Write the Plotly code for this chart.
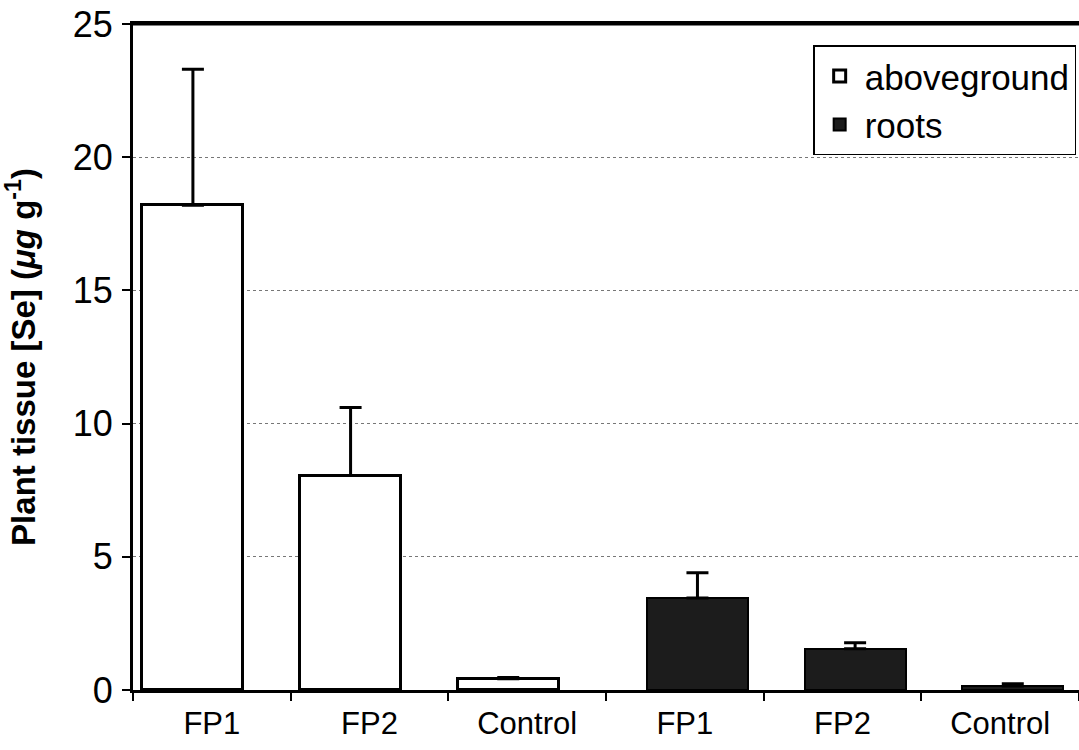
import plotly.graph_objects as go

# ---- data ----
categories = ["FP1", "FP2", "Control", "FP1", "FP2", "Control"]
above_pos = [0, 1, 2]
above_vals = [18.2, 8.05, 0.42]
above_err = [5.1, 2.55, 0.05]
roots_pos = [3, 4, 5]
roots_vals = [3.45, 1.55, 0.15]
roots_err = [0.95, 0.22, 0.08]

fig = go.Figure()

fig.add_trace(go.Bar(
    x=above_pos, y=above_vals, name="aboveground",
    width=0.64, offset=-0.44,
    marker=dict(color="white", line=dict(color="black", width=3)),
    error_y=dict(type="data", symmetric=False, array=above_err,
                 arrayminus=[0, 0, 0], color="black", thickness=3, width=11),
))
fig.add_trace(go.Bar(
    x=roots_pos, y=roots_vals, name="roots",
    width=0.64, offset=-0.24,
    marker=dict(color="#1c1c1c", line=dict(color="black", width=2)),
    error_y=dict(type="data", symmetric=False, array=roots_err,
                 arrayminus=[0, 0, 0], color="black", thickness=3, width=11),
))

fig.update_layout(
    width=1079, height=750,
    margin=dict(l=133, r=0, t=24, b=60),
    plot_bgcolor="white", paper_bgcolor="white",
    font=dict(family="Liberation Sans, Arial, sans-serif", color="black"),
    showlegend=True,
    legend=dict(
        x=0.997, y=0.968, xanchor="right", yanchor="top",
        bordercolor="black", borderwidth=1.5, bgcolor="white",
        font=dict(size=35), tracegroupgap=0, itemwidth=40,
    ),
    bargap=0,
)

fig.update_xaxes(
    range=[-0.5, 5.5], automargin=False,
    tickmode="array", tickvals=list(range(6)), ticktext=categories,
    ticks="", tickfont=dict(size=31), ticklabelstandoff=4,
    showline=True, linecolor="black", linewidth=3, mirror=True,
    showgrid=False, zeroline=False,
    minor=dict(tickmode="linear", tick0=-0.5, dtick=1, ticks="outside",
               ticklen=8, tickwidth=1.5, tickcolor="black", showgrid=False),
)

fig.update_yaxes(
    range=[0, 25], tickmode="linear", tick0=0, dtick=5, automargin=False,
    ticks="outside", ticklen=8, tickwidth=1.5, tickcolor="black",
    tickfont=dict(size=36), ticklabelstandoff=2,
    showline=True, linecolor="black", linewidth=3,
    showgrid=True, gridcolor="#777777", gridwidth=1, griddash="dot",
    zeroline=False,
    title=dict(text="<b>Plant tissue [Se] (<i>\u03bcg</i> g<sup>-1</sup>)</b>",
               font=dict(size=33), standoff=38),
)

# top border of the plot area
fig.add_shape(type="line", xref="paper", yref="paper",
              x0=0, x1=1, y0=1, y1=1, line=dict(color="black", width=3))

fig.write_html("out.html", config={"displayModeBar": False},
               post_script="document.body.style.margin='0px';")
